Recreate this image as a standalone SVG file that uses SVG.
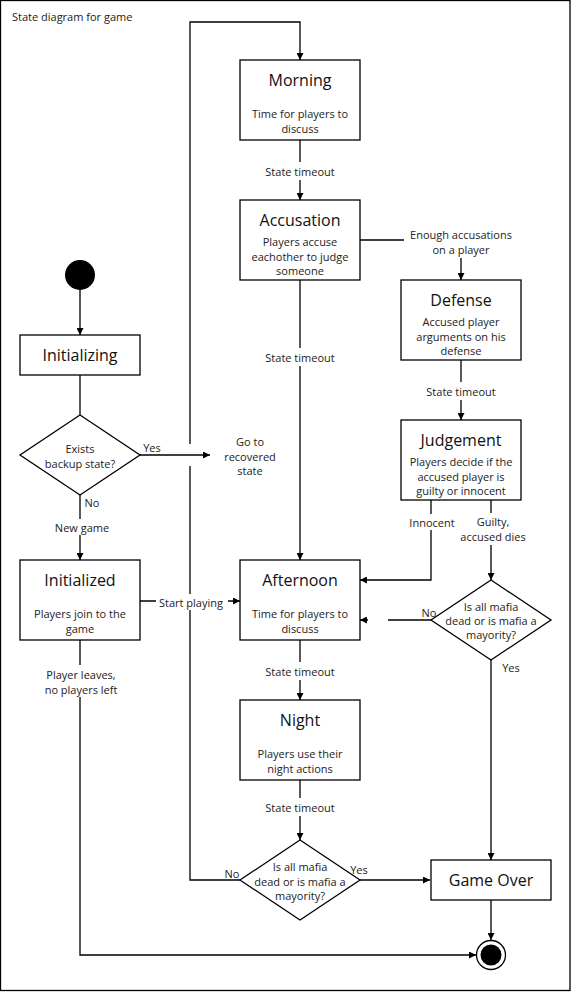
<svg xmlns="http://www.w3.org/2000/svg" width="571" height="992" viewBox="0 0 571 992">
<defs>
<marker id="arr" viewBox="0 0 10 10" refX="10" refY="5" markerWidth="7" markerHeight="7" markerUnits="userSpaceOnUse" orient="auto">
<path d="M0,0 L10,5 L0,10 Z" fill="#000"/>
</marker>
<style>
.box{fill:#fff;stroke:#000;stroke-width:1.3}
.ln{fill:none;stroke:#000;stroke-width:1.3}
.t{font-family:"Open Sans","Liberation Sans",sans-serif;font-size:16px;fill:#111;text-anchor:middle;dominant-baseline:central}
.s{font-family:"Open Sans","Liberation Sans",sans-serif;font-size:11px;fill:#222;text-anchor:middle;dominant-baseline:central}
.bg{fill:#fff}
</style>
</defs>
<rect x="0.5" y="0.5" width="569.5" height="990" fill="#fff" stroke="#000" stroke-width="1.3"/>
<text x="12" y="16" class="s" style="text-anchor:start">State diagram for game</text>

<g id="connectors">
<path class="ln" d="M240,880 H190 V22 H300 V60" marker-end="url(#arr)"/>
<rect class="bg" x="186" y="444" width="8" height="22"/>
<path class="ln" d="M80,290 V335" marker-end="url(#arr)"/>
<path class="ln" d="M80,375 V415"/>
<path class="ln" d="M140,455 H210" marker-end="url(#arr)"/>
<path class="ln" d="M80,495 V560" marker-end="url(#arr)"/>
<path class="ln" d="M140,601 H240" marker-end="url(#arr)"/>
<path class="ln" d="M80,640 V955 H476" marker-end="url(#arr)"/>
<path class="ln" d="M300,140 V200" marker-end="url(#arr)"/>
<path class="ln" d="M360,240 H461 V280" marker-end="url(#arr)"/>
<path class="ln" d="M461,360 V420" marker-end="url(#arr)"/>
<path class="ln" d="M300,280 V560" marker-end="url(#arr)"/>
<path class="ln" d="M431,500 V580 H360" marker-end="url(#arr)"/>
<path class="ln" d="M491,500 V580" marker-end="url(#arr)"/>
<path class="ln" d="M431,620 H360" marker-end="url(#arr)"/>
<path class="ln" d="M491,660 V860" marker-end="url(#arr)"/>
<path class="ln" d="M300,640 V700" marker-end="url(#arr)"/>
<path class="ln" d="M300,780 V840" marker-end="url(#arr)"/>
<path class="ln" d="M360,880 H430" marker-end="url(#arr)"/>
<path class="ln" d="M491,900 V940" marker-end="url(#arr)"/>
<rect class="bg" x="368" y="617" width="20" height="6"/>
<rect class="bg" x="262" y="162" width="76" height="18"/>
<rect class="bg" x="262" y="348" width="76" height="18"/>
<rect class="bg" x="262" y="662" width="76" height="18"/>
<rect class="bg" x="262" y="798" width="76" height="18"/>
<rect class="bg" x="423" y="382" width="76" height="18"/>
<rect class="bg" x="404" y="226" width="116" height="32"/>
<rect class="bg" x="405" y="514" width="54" height="16"/>
<rect class="bg" x="455" y="513" width="76" height="32"/>
<rect class="bg" x="50" y="519" width="64" height="16"/>
<rect class="bg" x="156" y="594" width="72" height="16"/>
<rect class="bg" x="40" y="665" width="82" height="32"/>
<text x="300" y="171" class="s">State timeout</text>
<text x="300" y="357" class="s">State timeout</text>
<text x="300" y="671" class="s">State timeout</text>
<text x="300" y="807" class="s">State timeout</text>
<text x="461" y="391" class="s">State timeout</text>
<text x="461" y="234" class="s">Enough accusations</text>
<text x="461" y="249" class="s">on a player</text>
<text x="432" y="522" class="s">Innocent</text>
<text x="493" y="521" class="s">Guilty,</text>
<text x="493" y="536" class="s">accused dies</text>
<text x="429" y="612" class="s">No</text>
<text x="511" y="667" class="s">Yes</text>
<text x="232" y="873" class="s">No</text>
<text x="359" y="869" class="s">Yes</text>
<text x="152" y="447" class="s">Yes</text>
<text x="250" y="441" class="s">Go to</text>
<text x="250" y="456" class="s">recovered</text>
<text x="250" y="470" class="s">state</text>
<text x="92" y="502" class="s">No</text>
<text x="82" y="527" class="s">New game</text>
<text x="191" y="602" class="s">Start playing</text>
<text x="81" y="674" class="s">Player leaves,</text>
<text x="81" y="689" class="s">no players left</text>
</g>

<g id="start"><circle cx="80" cy="275" r="15" fill="#000"/></g>
<g id="initializing"><rect class="box" x="20" y="335" width="120" height="40"/><text x="80" y="355" class="t">Initializing</text></g>
<g id="backup-decision"><path class="box" d="M80,415 L140,455 L80,495 L20,455 Z"/><text x="80" y="448" class="s">Exists</text><text x="80" y="463" class="s">backup state?</text></g>
<g id="initialized"><rect class="box" x="20" y="560" width="120" height="80"/><text x="80" y="580" class="t">Initialized</text><text x="80" y="613" class="s">Players join to the</text><text x="80" y="628" class="s">game</text></g>
<g id="morning"><rect class="box" x="240" y="60" width="120" height="80"/><text x="300" y="80" class="t">Morning</text><text x="300" y="113" class="s">Time for players to</text><text x="300" y="128" class="s">discuss</text></g>
<g id="accusation"><rect class="box" x="240" y="200" width="120" height="80"/><text x="300" y="220" class="t">Accusation</text><text x="300" y="241" class="s">Players accuse</text><text x="300" y="256" class="s">eachother to judge</text><text x="300" y="270" class="s">someone</text></g>
<g id="defense"><rect class="box" x="401" y="280" width="120" height="80"/><text x="461" y="300" class="t">Defense</text><text x="461" y="321" class="s">Accused player</text><text x="461" y="336" class="s">arguments on his</text><text x="461" y="350" class="s">defense</text></g>
<g id="judgement"><rect class="box" x="401" y="420" width="120" height="80"/><text x="461" y="440" class="t">Judgement</text><text x="461" y="461" class="s">Players decide if the</text><text x="461" y="476" class="s">accused player is</text><text x="461" y="490" class="s">guilty or innocent</text></g>
<g id="afternoon"><rect class="box" x="240" y="560" width="120" height="80"/><text x="300" y="580" class="t">Afternoon</text><text x="300" y="613" class="s">Time for players to</text><text x="300" y="628" class="s">discuss</text></g>
<g id="judgement-decision"><path class="box" d="M491,580 L551,620 L491,660 L431,620 Z"/><text x="491" y="606" class="s">Is all mafia</text><text x="491" y="620" class="s">dead or is mafia a</text><text x="491" y="634" class="s">mayority?</text></g>
<g id="night"><rect class="box" x="240" y="700" width="120" height="80"/><text x="300" y="720" class="t">Night</text><text x="300" y="753" class="s">Players use their</text><text x="300" y="768" class="s">night actions</text></g>
<g id="night-decision"><path class="box" d="M300,840 L360,880 L300,920 L240,880 Z"/><text x="300" y="866" class="s">Is all mafia</text><text x="300" y="881" class="s">dead or is mafia a</text><text x="300" y="895" class="s">mayority?</text></g>
<g id="game-over"><rect class="box" x="431" y="860" width="120" height="40"/><text x="491" y="880" class="t">Game Over</text></g>
<g id="end"><circle cx="491" cy="955" r="14.5" fill="#fff" stroke="#000" stroke-width="1.3"/><circle cx="491" cy="955" r="10.5" fill="#000"/></g>
</svg>
